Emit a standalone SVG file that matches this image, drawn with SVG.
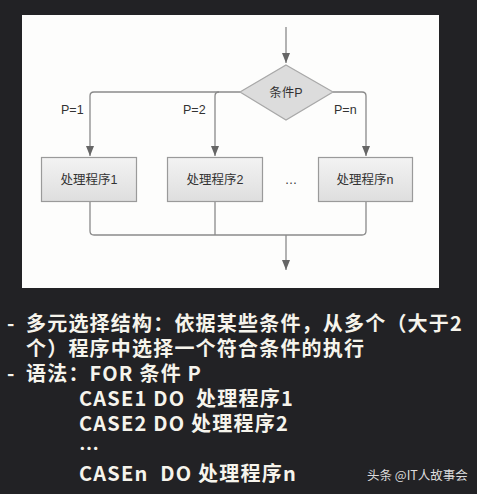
<svg xmlns="http://www.w3.org/2000/svg" width="477" height="494" viewBox="0 0 477 494">
<defs>
<linearGradient id="boxg" x1="0" y1="0" x2="0" y2="1"><stop offset="0" stop-color="#f3f3f3"/><stop offset="1" stop-color="#dedede"/></linearGradient>
<marker id="ah" markerUnits="userSpaceOnUse" markerWidth="12" markerHeight="8" refX="10" refY="4" orient="auto"><path d="M0,0 L10,4 L0,8 Z" fill="#666"/></marker>
<style>
.ln{fill:none;stroke:#8a8a8a;stroke-width:1.3}
.box{fill:url(#boxg);stroke:#9a9a9a;stroke-width:1.2}
.dia{fill:#dcdcdc;stroke:#a8a8a8;stroke-width:1.2}
.t{font-family:"Liberation Sans","Noto Sans CJK SC",sans-serif;font-size:12.5px;fill:#333}
.w{font-family:"Noto Sans CJK SC",sans-serif;font-size:20px;font-weight:bold;fill:#f6f4ec;letter-spacing:1.2px}
.wm{font-family:"Noto Sans CJK SC",sans-serif;font-size:12.5px;fill:#dcdcdc}
</style>
</defs>
<rect width="477" height="494" fill="#222225"/>
<rect x="22" y="15" width="417" height="273" fill="#fdfdfc"/>
<g id="connectors">
<path class="ln" d="M286,27 V63" marker-end="url(#ah)"/>
<path class="ln" d="M240,92 H94 Q90,92 90,96 V156" marker-end="url(#ah)"/>
<path class="ln" d="M219,92 Q215,92 215,96 V156" marker-end="url(#ah)"/>
<path class="ln" d="M333,92 H362 Q366,92 366,96 V156" marker-end="url(#ah)"/>
<path class="ln" d="M90,201 V231 Q90,235 94,235 H362 Q366,235 366,231 V201"/>
<path class="ln" d="M215,201 V235"/>
<path class="ln" d="M286,235 V270" marker-end="url(#ah)"/>
<text class="t" x="61" y="114">P=1</text>
<text class="t" x="183" y="114">P=2</text>
<text class="t" x="334" y="114">P=n</text>
</g>
<g id="cond"><polygon class="dia" points="286,65 333,92 286,120 240,92"/><text class="t" x="286" y="97" text-anchor="middle">条件P</text></g>
<g id="proc1"><rect class="box" x="41.5" y="157.5" width="95" height="44"/><text class="t" x="89" y="184" text-anchor="middle">处理程序1</text></g>
<g id="proc2"><rect class="box" x="167.5" y="157.5" width="95" height="44"/><text class="t" x="215" y="184" text-anchor="middle">处理程序2</text></g>
<g id="dots"><text class="t" x="291" y="184" text-anchor="middle" fill="#555">…</text></g>
<g id="procn"><rect class="box" x="318.5" y="157.5" width="94" height="44"/><text class="t" x="365" y="184" text-anchor="middle">处理程序n</text></g>
<g id="notes">
<text class="w" x="7" y="331">-</text>
<text class="w" x="26" y="331">多元选择结构：依据某些条件，从多个（大于2</text>
<text class="w" x="26" y="356">个）程序中选择一个符合条件的执行</text>
<text class="w" x="7" y="381">-</text>
<text class="w" x="26" y="381">语法：FOR 条件 P</text>
<text class="w" x="79" y="406">CASE1 DO <tspan dx="5">处理程序1</tspan></text>
<text class="w" x="79" y="431">CASE2 DO 处理程序2</text>
<text class="w" x="79" y="456">…</text>
<text class="w" x="79" y="481">CASEn <tspan dx="6">DO 处理程序n</tspan></text>
<text class="wm" x="367" y="480">头条 @IT人故事会</text>
</g>
</svg>
